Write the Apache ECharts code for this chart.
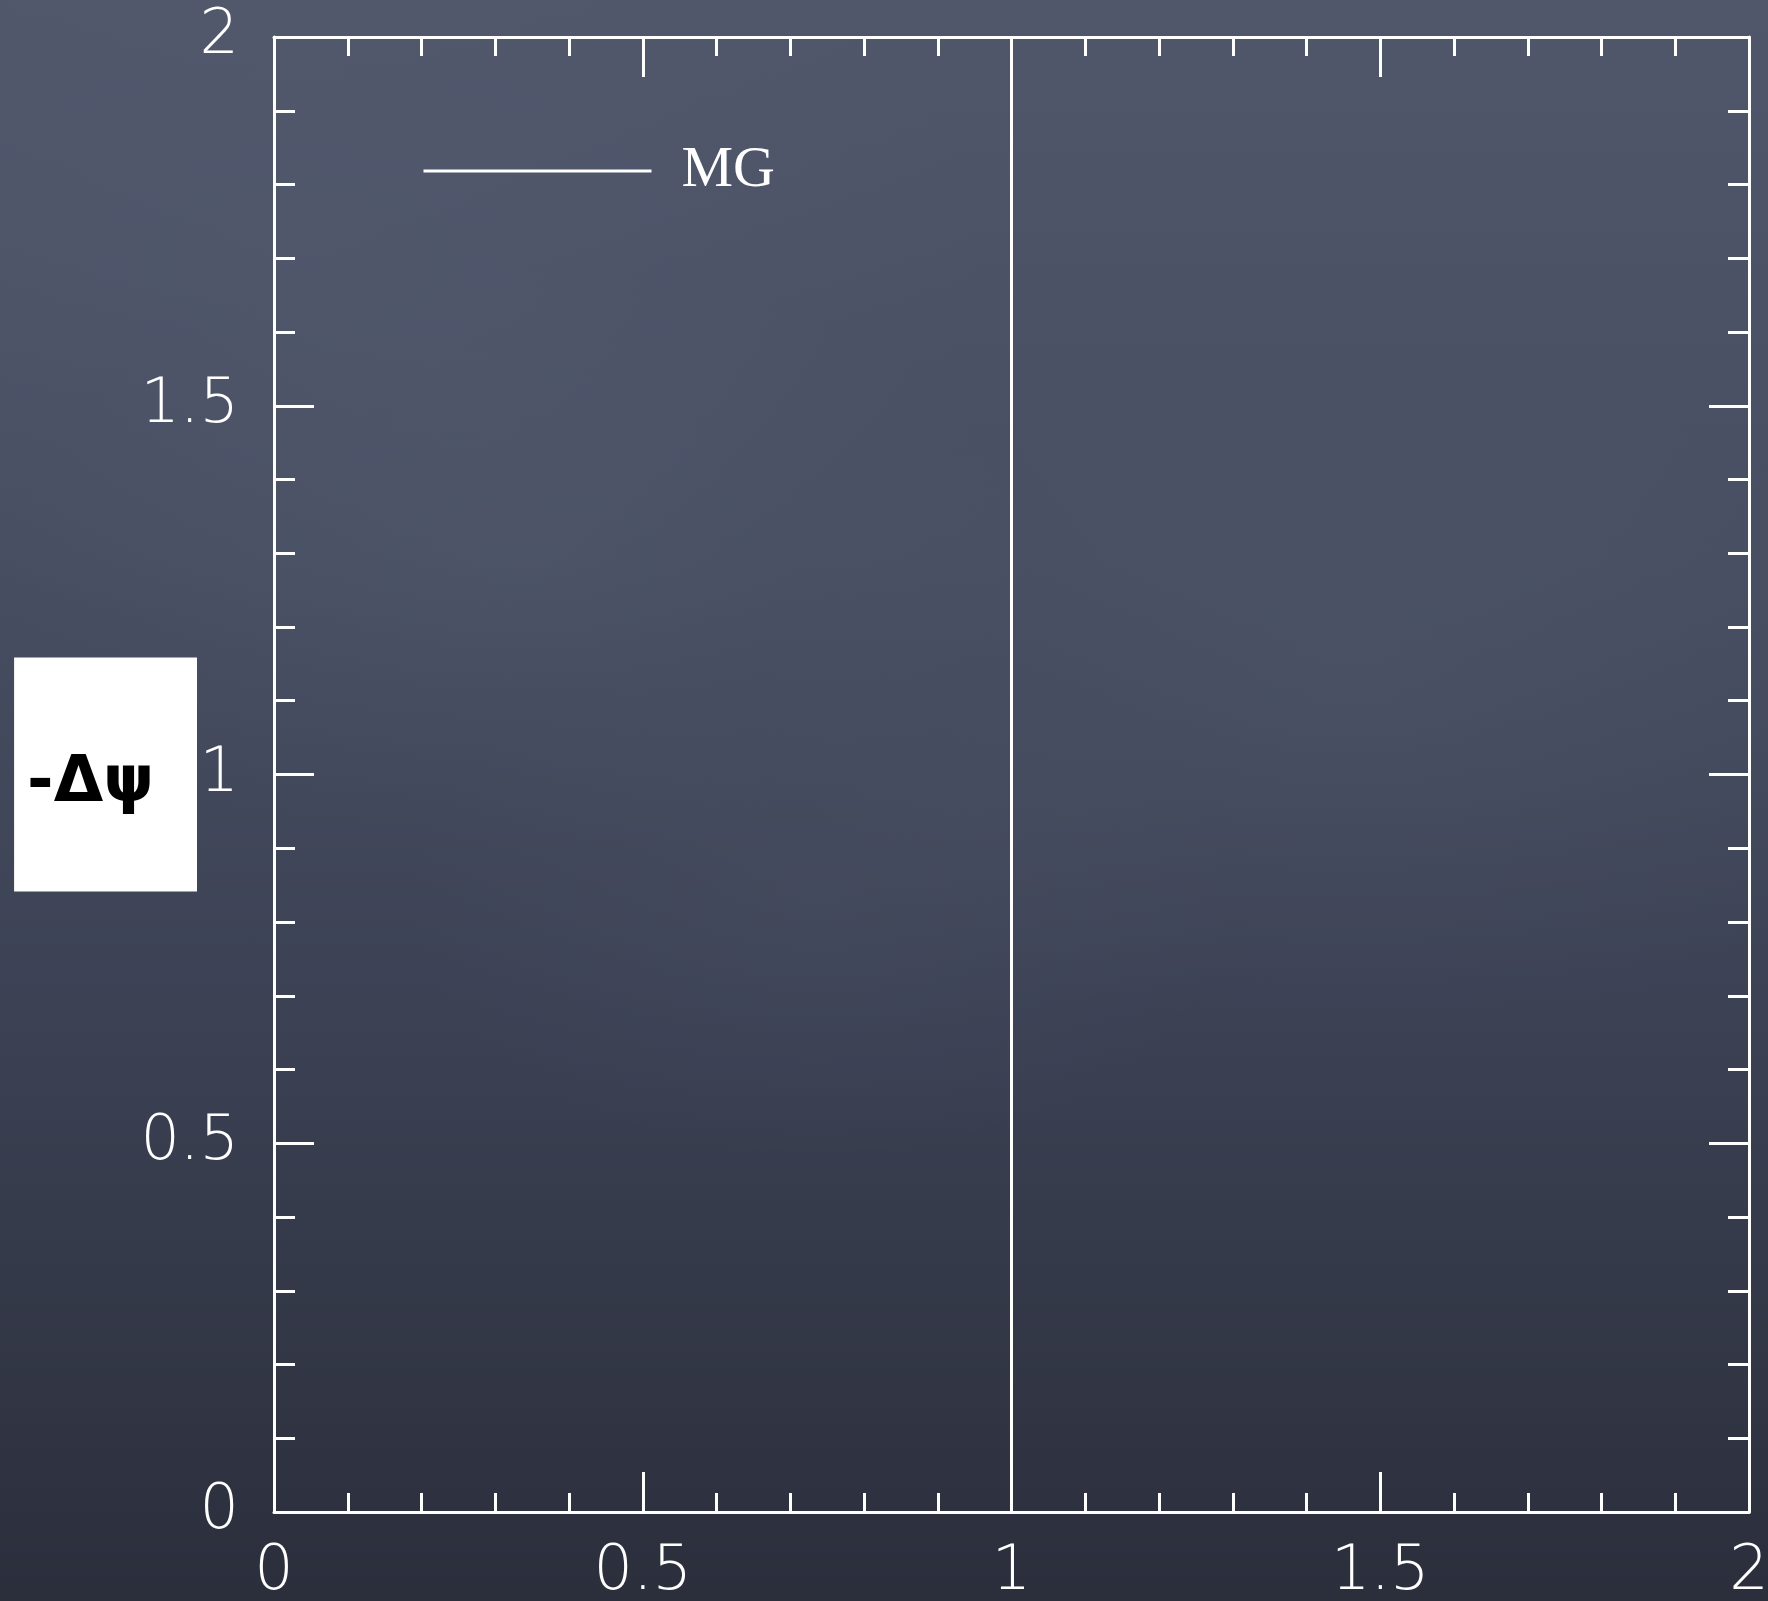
<!DOCTYPE html>
<html>
<head>
<meta charset="utf-8">
<title>-Δψ vs MG</title>
<script src="https://cdn.jsdelivr.net/npm/echarts@6/dist/echarts.min.js"></script>
<style>
  html, body { margin: 0; padding: 0; }
  body {
    width: 1768px; height: 1601px; overflow: hidden;
    background-color: #3d4354;
    background-image:
      radial-gradient(ellipse 520px 300px at 520px 560px, rgba(120,130,155,0.10), rgba(0,0,0,0)),
      radial-gradient(ellipse 600px 340px at 1350px 700px, rgba(120,130,155,0.10), rgba(0,0,0,0)),
      radial-gradient(ellipse 420px 260px at 820px 900px, rgba(120,130,155,0.08), rgba(0,0,0,0)),
      radial-gradient(ellipse 700px 380px at 300px 250px, rgba(120,130,155,0.08), rgba(0,0,0,0)),
      linear-gradient(to bottom, #50576b 0%, #474e61 35%, #3b4153 65%, #2b2e3b 100%);
  }
  #chart { width: 1768px; height: 1601px; }
</style>
</head>
<body>
<div id="chart"></div>
<script>
// Axis ranges and tick labels
const xTicks = [0, 0.5, 1, 1.5, 2];
const yTicks = [0, 0.5, 1, 1.5, 2];
// MG: vertical line at x = 1 spanning the full y range
const mgX = [1, 1];
const mgY = [0, 2];
const seriesName = 'MG';
const yAxisTitle = '-Δψ';

const white = '#ffffff';
const tickLabelStyle = { color: white, fontSize: 62, fontFamily: 'DejaVu Sans', fontWeight: 200 };

function xAxisDef(pos, showLabels) {
  return {
    type: 'value', position: pos,
    min: xTicks[0], max: xTicks[xTicks.length - 1], interval: 0.5,
    axisLine: { show: true, onZero: false, lineStyle: { color: white, width: 3 } },
    axisTick: { show: true, inside: true, length: 40, lineStyle: { color: white, width: 3 } },
    minorTick: { show: true, splitNumber: 5, length: 19, lineStyle: { color: white, width: 3 } },
    splitLine: { show: false },
    axisLabel: Object.assign({ show: showLabels, margin: 30, hideOverlap: false,
      formatter: v => String(v) }, tickLabelStyle)
  };
}
function yAxisDef(pos, showLabels) {
  const a = {
    type: 'value', position: pos,
    min: yTicks[0], max: yTicks[yTicks.length - 1], interval: 0.5,
    axisLine: { show: true, onZero: false, lineStyle: { color: white, width: 3 } },
    axisTick: { show: true, inside: true, length: 40, lineStyle: { color: white, width: 3 } },
    minorTick: { show: true, splitNumber: 5, length: 21, lineStyle: { color: white, width: 3 } },
    splitLine: { show: false },
    axisLabel: Object.assign({ show: showLabels, margin: 35, hideOverlap: false,
      formatter: v => String(v) }, tickLabelStyle)
  };
  if (showLabels) {
    // boxed title; an empty spacer line lowers the glyphs a little inside the box
    a.name = '{gap|}\n{t|' + yAxisTitle + '}';
    a.nameLocation = 'middle';
    a.nameRotate = 0;
    a.nameGap = 77;
    a.nameMoveOverlap = false;
    a.nameTextStyle = {
      color: '#000', backgroundColor: '#fff',
      padding: [75, 43, 75, 13], align: 'right', verticalAlign: 'middle',
      rich: {
        gap: { fontSize: 1, lineHeight: 20, height: 20 },
        t: { color: '#000', fontFamily: 'DejaVu Sans', fontWeight: 'bold', fontSize: 64, lineHeight: 64 }
      }
    };
  }
  return a;
}

const chart = echarts.init(document.getElementById('chart'), null, { renderer: 'canvas' });
chart.setOption({
  backgroundColor: 'transparent',
  animation: false,
  grid: { left: 274, right: 19, top: 37, bottom: 89, containLabel: false, outerBoundsMode: 'none' },
  legend: {
    show: true, left: 417, top: 128,
    itemWidth: 228, itemHeight: 20,
    data: [seriesName],
    itemStyle: { color: 'transparent', borderColor: 'transparent', borderWidth: 0 },
    lineStyle: { color: white, width: 3 },
    textStyle: { color: white, fontFamily: 'Liberation Serif', fontSize: 58, lineHeight: 70,
      padding: [0, 0, 6, 25] }
  },
  xAxis: [xAxisDef('bottom', true), xAxisDef('top', false)],
  yAxis: [yAxisDef('left', true), yAxisDef('right', false)],
  series: [{
    name: seriesName, type: 'line', xAxisIndex: 0, yAxisIndex: 0,
    data: mgX.map((x, i) => [x, mgY[i]]),
    showSymbol: false, symbol: 'none',
    lineStyle: { color: white, width: 3 },
    itemStyle: { color: white }
  }]
});
</script>
</body>
</html>
